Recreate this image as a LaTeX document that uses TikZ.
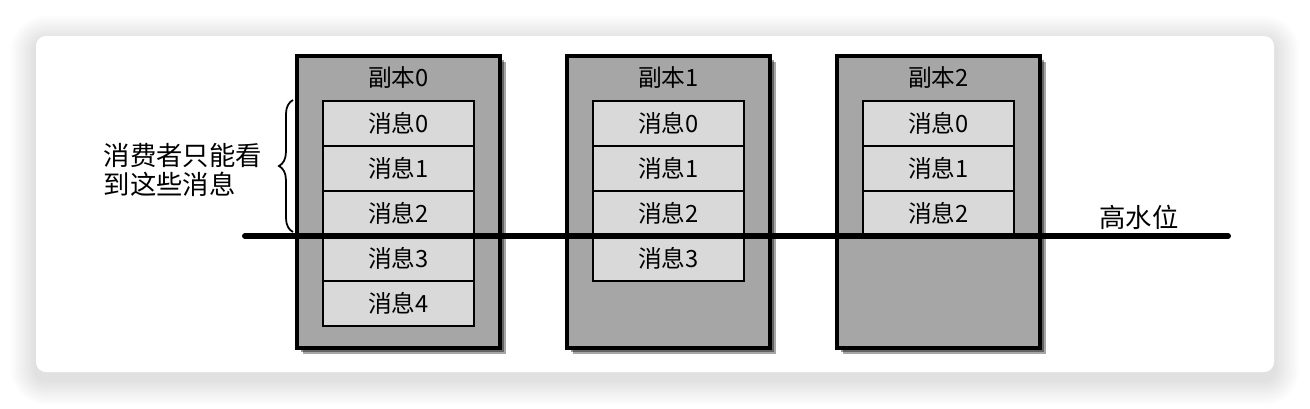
\documentclass[tikz,border=0pt]{standalone}
\usepackage{fontspec}
\newfontfamily\cjk{Noto Sans CJK SC}
\usetikzlibrary{positioning,decorations.pathreplacing,shadows}

\begin{document}
\begin{tikzpicture}[
  replica/.style={draw, line width=2pt, fill=black!35, minimum width=4.06cm, minimum height=5.84cm,
    general shadow={shadow xshift=0.12cm, shadow yshift=-0.12cm, fill=black, opacity=0.35},
    general shadow={shadow xshift=0.08cm, shadow yshift=-0.08cm, fill=black, opacity=0.4}},
  msg/.style={draw, line width=1.5pt, fill=black!15, minimum width=3.02cm, minimum height=0.9cm, font=\cjk\fontsize{13.5}{15}\selectfont},
  reptitle/.style={font=\cjk\fontsize{13.5}{15}\selectfont},
  hwline/.style={line width=3.4pt, line cap=round}
]
  \useasboundingbox (0,0) rectangle (26.2,-8.16);
  % card with soft shadow
  \foreach \i in {1,...,10}
    \fill[black, opacity=0.012, rounded corners={(0.2+\i*0.05)*1cm}]
      ({0.72-\i*0.05},{-0.82+\i*0.05}) rectangle ({25.48+\i*0.05},{-7.59-\i*0.05});
  \fill[white, rounded corners=0.2cm] (0.72,-0.72) rectangle (25.48,-7.44);

  % replicas
  \node[replica] (rep0) at (7.97,-4.04) {};
  \node[replica] (rep1) at (13.37,-4.04) {};
  \node[replica] (rep2) at (18.77,-4.04) {};

  \node[reptitle] (t0) at (7.97,-1.56) {副本0};
  \node[reptitle] (t1) at (13.37,-1.56) {副本1};
  \node[reptitle] (t2) at (18.77,-1.56) {副本2};

  \node[msg] (m00) at (7.97,-2.47) {消息0};
  \node[msg] (m01) at (7.97,-3.37) {消息1};
  \node[msg] (m02) at (7.97,-4.27) {消息2};
  \node[msg] (m03) at (7.97,-5.17) {消息3};
  \node[msg] (m04) at (7.97,-6.07) {消息4};

  \node[msg] (m10) at (13.37,-2.47) {消息0};
  \node[msg] (m11) at (13.37,-3.37) {消息1};
  \node[msg] (m12) at (13.37,-4.27) {消息2};
  \node[msg] (m13) at (13.37,-5.17) {消息3};

  \node[msg] (m20) at (18.77,-2.47) {消息0};
  \node[msg] (m21) at (18.77,-3.37) {消息1};
  \node[msg] (m22) at (18.77,-4.27) {消息2};

  % high watermark
  \coordinate (hwL) at (4.9,-4.72);
  \coordinate (hwR) at (24.56,-4.72);
  \draw[hwline] (hwL) -- (hwR);
  \node[font=\cjk\fontsize{15}{17}\selectfont] (hwlabel) at (22.78,-4.34) {高水位};

  % consumer range
  \coordinate (braceTop) at (5.86,-2.0);
  \coordinate (braceBot) at (5.86,-4.64);
  \draw[decorate, decoration={brace, amplitude=8pt}, line width=1pt] (braceBot) -- (braceTop);
  \node[anchor=west, align=left, font=\cjk\fontsize{15}{17}\selectfont] (note) at (1.95,-3.4) {消费者只能看\\到这些消息};
\end{tikzpicture}
\end{document}
